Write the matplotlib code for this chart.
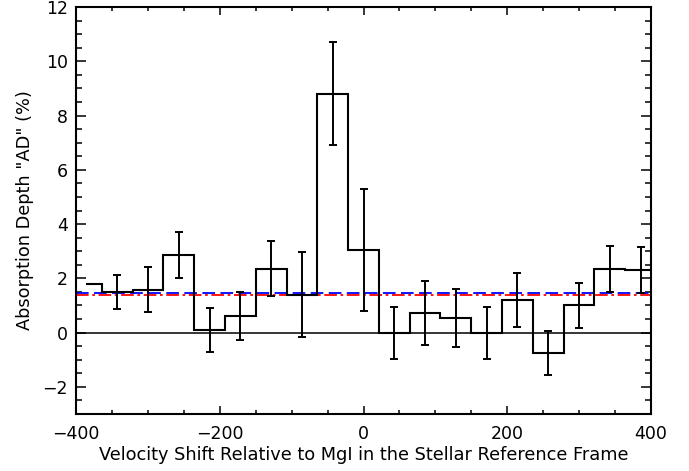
import numpy as np
import matplotlib
matplotlib.use("Agg")
import matplotlib.pyplot as plt

# bin centres (km/s) and absorption depth (%)
velocity = [-385.6, -342.7, -299.9, -257.0, -214.2, -171.4, -128.5, -85.7, -42.8, 0.0,
            42.8, 85.7, 128.5, 171.4, 214.2, 257.0, 299.9, 342.7, 385.6]
depth = [1.80, 1.50, 1.58, 2.85, 0.10, 0.62, 2.36, 1.40, 8.81, 3.05,
         0.0, 0.73, 0.54, 0.0, 1.20, -0.75, 1.00, 2.35, 2.30]
depth_err = [np.nan, 0.62, 0.82, 0.84, 0.82, 0.89, 1.01, 1.57, 1.90, 2.24,
             0.96, 1.18, 1.08, 0.96, 1.00, 0.81, 0.83, 0.85, 0.85]

level_blue = 1.47
level_red = 1.40

x = np.array(velocity)
y = np.array(depth)
e = np.array(depth_err)

# IDL style histogram steps: start at first point, end half a bin past the last
edges = np.concatenate([[x[0]], (x[:-1] + x[1:]) / 2, [x[-1] + (x[-1] - x[-2]) / 2]])

plt.rcParams['font.family'] = 'DejaVu Sans'

fig = plt.figure(figsize=(6.89, 4.71), dpi=100)
ax = fig.add_axes([76 / 689, 1 - 414 / 471, 575 / 689, 407 / 471])

ax.axhline(0, color='k', lw=1.1, zorder=1)
ax.axhline(level_blue, color='blue', lw=1.3, ls=(0, (7, 3)), zorder=2)
ax.axhline(level_red, color='red', lw=1.3, ls=(0, (7, 2, 1.5, 2)), zorder=2)

ax.stairs(y, edges, baseline=None, color='k', lw=1.5, zorder=3)
ok = ~np.isnan(e)
ax.errorbar(x[ok], y[ok], yerr=e[ok], fmt='none', ecolor='k', elinewidth=1.4,
            capsize=2.6, capthick=1.4, zorder=4)

ax.set_xlim(-400, 400)
ax.set_ylim(-3, 12)
ax.set_xticks(np.arange(-400, 401, 200))
ax.set_xticks(np.arange(-400, 401, 50), minor=True)
ax.set_yticks(np.arange(-2, 13, 2))
ax.set_yticks(np.arange(-3, 12.1, 0.5), minor=True)
ax.set_xticklabels(['\u2212400', '\u2212200', '0', '200', '400'])
ax.set_yticklabels(['\u22122', '0', '2', '4', '6', '8', '10', '12'])

ax.tick_params(axis='both', which='both', direction='in', top=True, right=True,
               labelsize=12.5, width=1.1)
ax.tick_params(axis='x', which='major', length=6, pad=8)
ax.tick_params(axis='x', which='minor', length=3)
ax.tick_params(axis='y', which='major', length=7, pad=6)
ax.tick_params(axis='y', which='minor', length=4)
for sp in ax.spines.values():
    sp.set_linewidth(1.5)

ax.set_xlabel('Velocity Shift Relative to MgI in the Stellar Reference Frame',
              fontsize=12.8, labelpad=2)
ax.set_ylabel('Absorption Depth "AD" (%)', fontsize=12.8, labelpad=6)

fig.savefig('out.png', dpi=100)
